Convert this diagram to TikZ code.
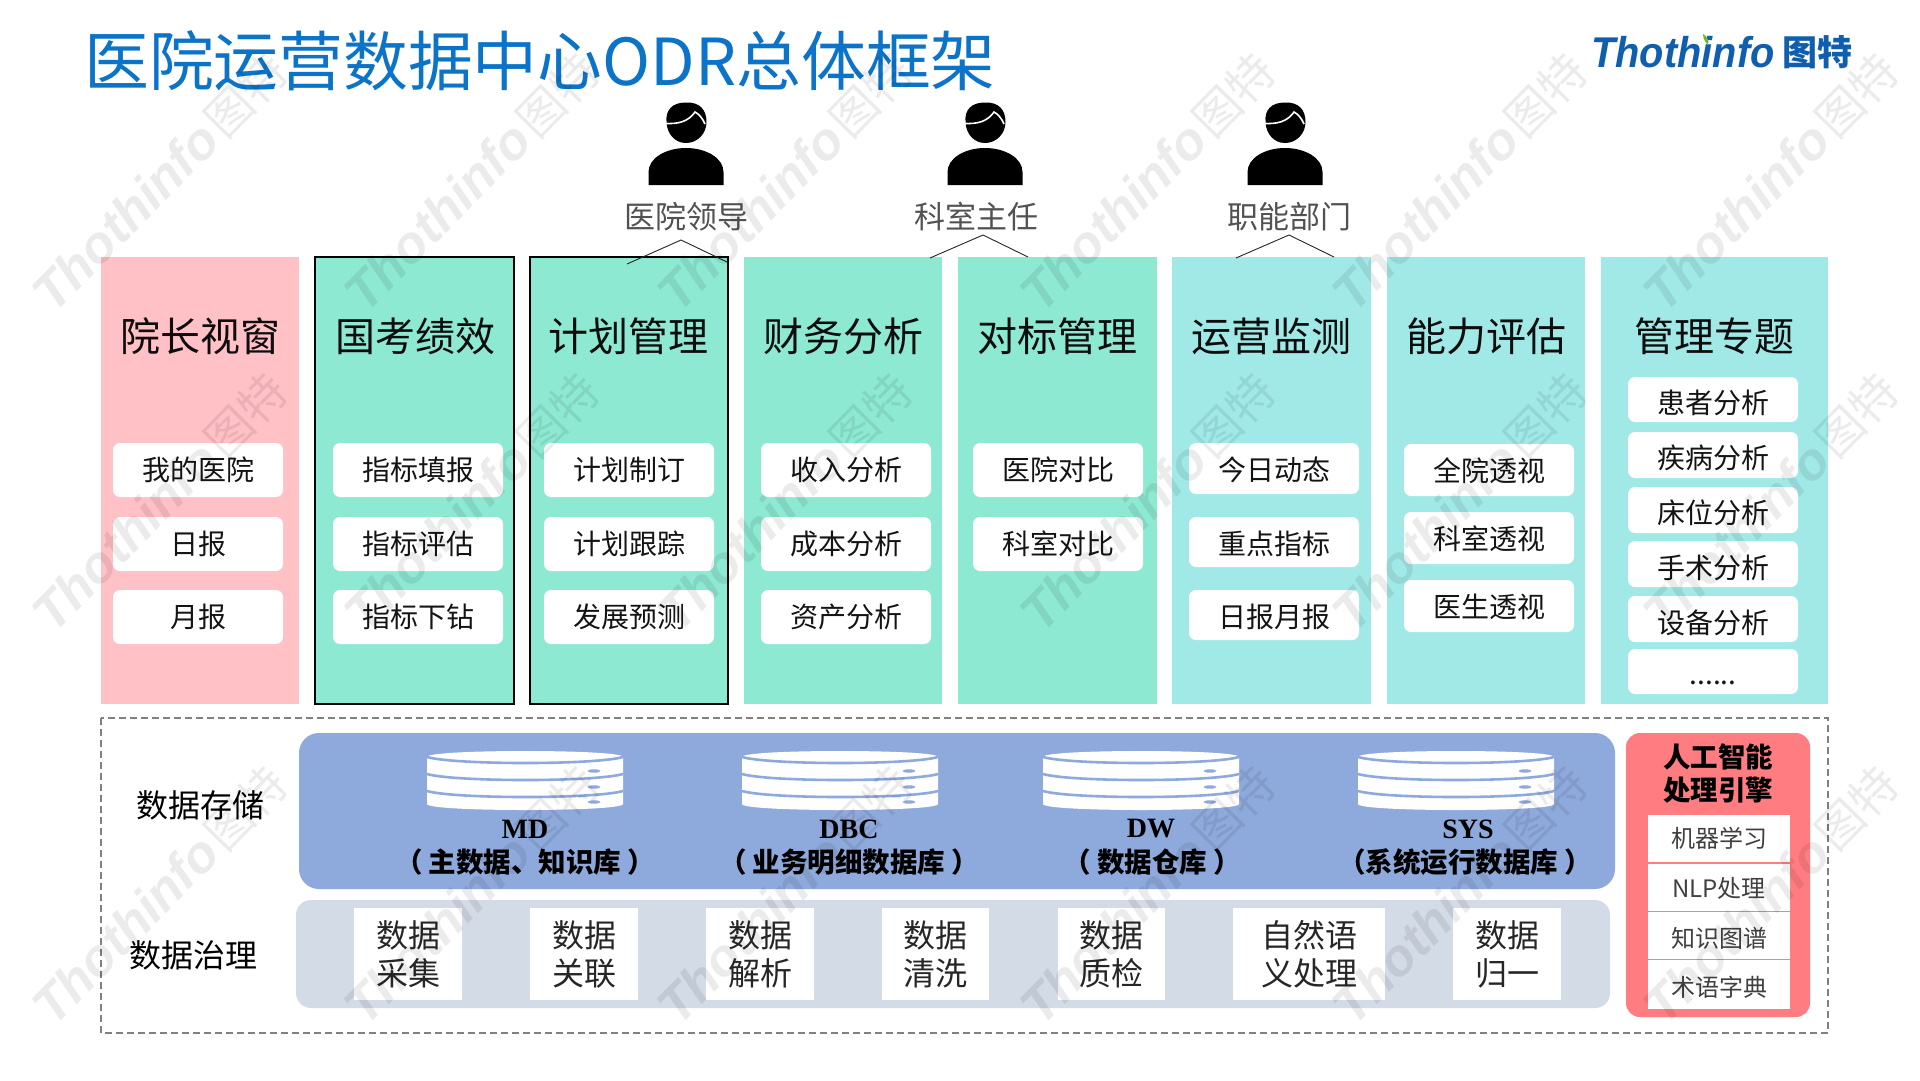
\documentclass[tikz,border=0pt]{standalone}
\usepackage{fontspec}
\setmainfont{Noto Sans CJK SC}
\newfontfamily\cjkf{Noto Sans CJK SC}
\newfontfamily\serifbf{Liberation Serif}
\newfontfamily\logof{Liberation Sans}
\definecolor{titleblue}{HTML}{0B74C8}
\definecolor{logoblue}{HTML}{0F5FAE}
\definecolor{leafgreen}{HTML}{6FB81E}
\definecolor{pinkcol}{HTML}{FFC0C6}
\definecolor{greencol}{HTML}{8EE9D2}
\definecolor{cyancol}{HTML}{A0E9E7}
\definecolor{storeblue}{HTML}{8EA9DB}
\definecolor{govgray}{HTML}{D3DBE7}
\definecolor{aired}{HTML}{FF7C80}
\newcommand{\fs}[1]{\fontsize{#1}{#1}\selectfont}
\newcommand{\pgap}{\hspace{6pt}}
\newcommand{\low}[2]{\raisebox{-#1pt}[\height][\depth]{#2}}
\tikzset{
  colbox/.style={rectangle,inner sep=0pt,outer sep=0pt},
  whitebox/.style={rectangle,rounded corners=7pt,fill=white,inner sep=0pt,outer sep=0pt,font=\fs{28},text=black!92},
  govbox/.style={rectangle,fill=white,inner sep=0pt,outer sep=0pt,font=\fs{32},text=black!85,align=center},
  coltitle/.style={font=\fs{40},text=black!95,inner sep=0pt},
  rolelabel/.style={font=\fs{31},text=black!68,inner sep=0pt},
  sidelabel/.style={font=\fs{32},text=black,inner sep=0pt},
  dbname/.style={font=\serifbf\bfseries\fs{28},text=black,inner sep=0pt},
  dbdesc/.style={font=\bfseries\fs{27.5},text=black,inner sep=0pt},
  aicell/.style={rectangle,fill=white,inner sep=0pt,outer sep=0pt,font=\fs{24},text=black!75,minimum width=142pt},
  chevron/.style={draw=black!85,line width=0.9pt},
  wmark/.style={black,opacity=0.08,rotate=45.5,inner sep=0pt,anchor=center},
}
% name, x1, y1, x2, y2, text
\newcommand{\wbx}[6]{%
  \pgfmathsetmacro{\mW}{#4-#2}\pgfmathsetmacro{\mH}{#5-#3}%
  \pgfmathsetmacro{\mX}{(#2+#4)/2}\pgfmathsetmacro{\mY}{(#3+#5)/2}%
  \node[whitebox,minimum width=\mW pt,minimum height=\mH pt] (#1) at (\mX,\mY) {#6};}
\newcommand{\gbx}[5]{%
  \pgfmathsetmacro{\mW}{#3-#2}\pgfmathsetmacro{\mX}{(#2+#3)/2}%
  \node[govbox,minimum width=\mW pt,minimum height=92pt] (#1) at (\mX,954) {#4\\[6pt]#5};}
\newcommand{\colm}[4]{%
  \pgfmathsetmacro{\mW}{#3-#2}\pgfmathsetmacro{\mX}{(#2+#3)/2}%
  \node[colbox,fill=#4,minimum width=\mW pt,minimum height=447pt] (#1) at (\mX,480.5) {};}
\newcommand{\person}[1]{%
  \begin{scope}[shift={(#1,0)}]
    \fill[black] (0,102.5) .. controls (14,102) and (20.5,110) .. (20.5,122) .. controls (20.5,134) and (11,143) .. (0,143) .. controls (-11,143) and (-19,134) .. (-19.5,122) .. controls (-20.5,110) and (-14,102.5) .. (0,102.5) -- cycle;
    \draw[white,line width=1.6pt] (-21,123.5) .. controls (-8,124) and (2,122) .. (9,112) .. controls (13,114) and (17,119) .. (19,124);
    \fill[black] (-37.5,185) -- (-37.5,172) .. controls (-37.5,158) and (-20,148) .. (0,148) .. controls (20,148) and (37.5,158) .. (37.5,172) -- (37.5,185) -- cycle;
  \end{scope}}
\newcommand{\dbstack}[1]{%
  \begin{scope}[shift={(#1,0)}]
    \fill[white] (-98,757) .. controls (-98,753) and (-50,751) .. (0,751) .. controls (50,751) and (98,753) .. (98,757) -- (98,804) .. controls (98,808) and (50,810) .. (0,810) .. controls (-50,810) and (-98,808) .. (-98,804) -- cycle;
    \foreach \yy in {757,774,791}{
      \draw[storeblue,line width=2.6pt] (-98,\yy) .. controls (-70,\yy+8) and (70,\yy+8) .. (98,\yy);
    }
    \foreach \yy in {771,787,802}{
      \fill[storeblue] (69,\yy) ellipse [x radius=6.5,y radius=1.7];
    }
  \end{scope}}
\newcommand{\wm}[2]{%
  \node[wmark,font=\logof\bfseries\itshape\fs{52}] at (#1,#2) {Thothinfo\hspace{5pt}{\cjkf\mdseries\upshape\fs{46.5}图特}};}
\begin{document}
\begin{tikzpicture}[x=1pt,y=-1pt]
\useasboundingbox (0,0) rectangle (1920,1080);
\fill[white] (0,0) rectangle (1920,1080);

% title and logo
\node[anchor=west,inner sep=0pt,text=titleblue,font=\fs{64.8}] (title) at (84,61) {医院运营数据中心ODR总体框架};
\node[anchor=west,inner sep=0pt,text=logoblue,font=\logof\bfseries\itshape\fs{41}] (logo) at (1591,52) {\scalebox{0.97}[1.05]{Thothinfo}};
\node[anchor=west,inner sep=0pt,text=logoblue,font=\bfseries\fs{35}] (logocn) at (1782,52) {图特};
\fill[leafgreen] (1703,34) .. controls (1708,37) and (1709,41) .. (1708,45) .. controls (1705,42) and (1703,38) .. (1703,34) -- cycle;

% users
\person{686}\person{985}\person{1285}
\node[rolelabel] (r1) at (686,217) {医院领导};
\node[rolelabel] (r2) at (976,217) {科室主任};
\node[rolelabel] (r3) at (1289,217) {职能部门};

% columns
\colm{c1}{101}{299}{pinkcol}
\colm{c2}{315}{514}{greencol}
\colm{c3}{530}{728}{greencol}
\colm{c4}{744}{942}{greencol}
\colm{c5}{958}{1157}{greencol}
\colm{c6}{1172}{1371}{cyancol}
\colm{c7}{1387}{1585}{cyancol}
\colm{c8}{1601}{1828}{cyancol}
\draw[black,line width=2pt] (c2.south west) rectangle (c2.north east);
\draw[black,line width=2pt] (c3.south west) rectangle (c3.north east);

% chevrons
\coordinate (a1) at (627,264);\coordinate (a2) at (681,240);\coordinate (a3) at (727,262);
\coordinate (b1) at (930,258);\coordinate (b2) at (983,235);\coordinate (b3) at (1028,257);
\coordinate (d1) at (1236,258);\coordinate (d2) at (1289,235);\coordinate (d3) at (1334,257);
\draw[chevron] (a1) -- (a2) -- (a3);
\draw[chevron] (b1) -- (b2) -- (b3);
\draw[chevron] (d1) -- (d2) -- (d3);

% column titles
\node[coltitle] (t1) at (200,336) {院长视窗};
\node[coltitle] (t2) at (415,336) {国考绩效};
\node[coltitle] (t3) at (628,336) {计划管理};
\node[coltitle] (t4) at (843,336) {财务分析};
\node[coltitle] (t5) at (1057,336) {对标管理};
\node[coltitle] (t6) at (1271,336) {运营监测};
\node[coltitle] (t7) at (1486,336) {能力评估};
\node[coltitle] (t8) at (1714,336) {管理专题};

% white items
\wbx{w11}{113}{443}{283}{497}{我的医院}
\wbx{w12}{113}{517}{283}{571}{日报}
\wbx{w13}{113}{590}{283}{644}{月报}
\wbx{w21}{333}{443}{503}{497}{指标填报}
\wbx{w22}{333}{517}{503}{571}{指标评估}
\wbx{w23}{333}{590}{503}{644}{指标下钻}
\wbx{w31}{544}{443}{714}{497}{计划制订}
\wbx{w32}{544}{517}{714}{571}{计划跟踪}
\wbx{w33}{544}{590}{714}{644}{发展预测}
\wbx{w41}{761}{443}{931}{497}{收入分析}
\wbx{w42}{761}{517}{931}{571}{成本分析}
\wbx{w43}{761}{590}{931}{644}{资产分析}
\wbx{w51}{973}{443}{1143}{497}{医院对比}
\wbx{w52}{973}{517}{1143}{571}{科室对比}
\wbx{w61}{1189}{443}{1359}{494}{\low{1}{今日动态}}
\wbx{w62}{1189}{517}{1359}{567}{\low{2}{重点指标}}
\wbx{w63}{1189}{590}{1359}{640}{\low{2}{日报月报}}
\wbx{w71}{1404}{444}{1574}{496}{\low{1}{全院透视}}
\wbx{w72}{1404}{512}{1574}{564}{\low{1}{科室透视}}
\wbx{w73}{1404}{580}{1574}{632}{\low{1}{医生透视}}
\wbx{w81}{1628}{377}{1798}{422}{\low{3.5}{患者分析}}
\wbx{w82}{1628}{432}{1798}{478}{\low{3}{疾病分析}}
\wbx{w83}{1628}{487}{1798}{533}{\low{3}{床位分析}}
\wbx{w84}{1628}{541}{1798}{587}{\low{4}{手术分析}}
\wbx{w85}{1628}{596}{1798}{642}{\low{4}{设备分析}}
\wbx{w86}{1628}{649}{1798}{694}{\low{11}{......}}

% data area
\draw[black!50,line width=2pt,dash pattern=on 7pt off 4pt] (101,718) rectangle (1828,1033);
\fill[storeblue,rounded corners=20pt] (299,733) rectangle (1615,889);
\fill[govgray,rounded corners=15pt] (296,900) rectangle (1610,1008);
\node[sidelabel] (s1) at (200,805) {数据存储};
\node[sidelabel] (s2) at (193,955) {数据治理};

\dbstack{525}\dbstack{840}\dbstack{1141}\dbstack{1456}
\node[dbname] (n1) at (525,829) {MD};
\node[dbname] (n2) at (849,829) {DBC};
\node[dbname] (n3) at (1151,829) {DW};
\node[dbname] (n4) at (1468,829) {SYS};
\node[dbdesc] (e1) at (525,862) {（\pgap 主数据、知识库\pgap ）};
\node[dbdesc] (e2) at (849,862) {（\pgap 业务明细数据库\pgap ）};
\node[dbdesc] (e3) at (1152,862) {（\pgap 数据仓库\pgap ）};
\node[dbdesc] (e4) at (1465,862) {（系统运行数据库\pgap ）};

\gbx{g1}{354}{462}{数据}{采集}
\gbx{g2}{530}{638}{数据}{关联}
\gbx{g3}{706}{814}{数据}{解析}
\gbx{g4}{882}{989}{数据}{清洗}
\gbx{g5}{1058}{1165}{数据}{质检}
\gbx{g6}{1233}{1385}{自然语}{义处理}
\gbx{g7}{1453}{1561}{数据}{归一}

% AI panel
\fill[aired,rounded corners=14pt] (1626,733) rectangle (1810,1017);
\node[inner sep=0pt,font=\bfseries\fs{27.5},text=black] (ai1) at (1718,757) {人工智能};
\node[inner sep=0pt,font=\bfseries\fs{27.5},text=black] (ai2) at (1718,790) {处理引擎};
\node[aicell,minimum height=47pt] (k1) at (1719,838) {机器学习};
\node[aicell,minimum height=47pt] (k2) at (1719,887) {\low{1}{NLP处理}};
\node[aicell,minimum height=47.5pt] (k3) at (1719,935.5) {\low{2.5}{知识图谱}};
\node[aicell,minimum height=48.5pt] (k4) at (1719,984.5) {\low{2.5}{术语字典}};

% watermark
\foreach \wx in {160,472,785,1148,1460,1771}{
  \wm{\wx}{182}
  \wm{\wx}{502}
  \wm{\wx}{895}
}
\end{tikzpicture}
\end{document}
